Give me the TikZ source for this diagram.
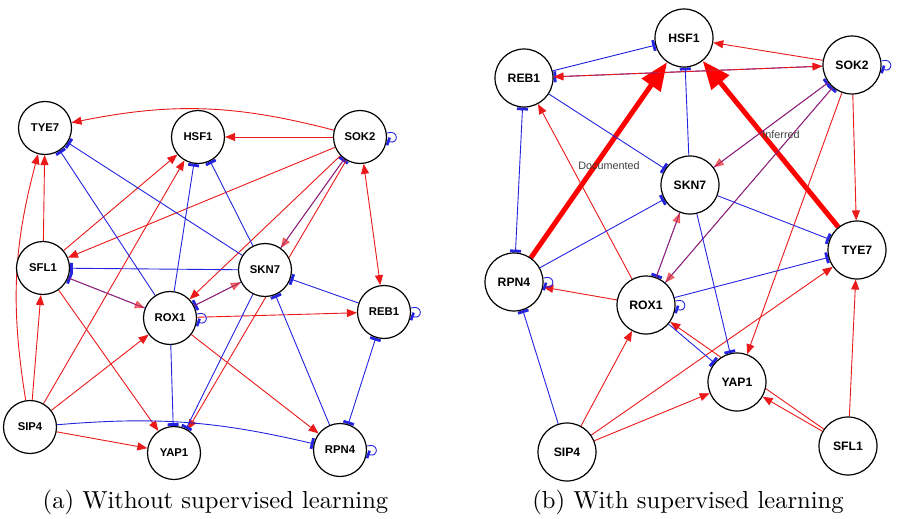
\documentclass[tikz,border=0pt]{standalone}
\usepackage{fontspec}
\newfontfamily\nodefont{Liberation Sans}
\newfontfamily\capfont{lmroman10-regular}[Extension=.otf]
\usetikzlibrary{arrows.meta}
\definecolor{actred}{RGB}{235,25,25}
\definecolor{inhblue}{RGB}{35,35,225}
\pgfdeclarelayer{edges}
\pgfsetlayers{edges,main}
\newcommand\sloop[1]{\draw[selfloop] ([yshift=4pt]#1.east) .. controls +(12,4) and +(12,-4) .. ([yshift=-4pt]#1.east);}
\begin{document}
\begin{tikzpicture}[x=1pt,y=1pt,
  na/.style={circle,draw=black,line width=1.2pt,fill=white,minimum size=53pt,inner sep=0pt,font=\nodefont\bfseries\fontsize{11.3}{11.3}\selectfont},
  nb/.style={na,minimum size=58pt,font=\nodefont\bfseries\fontsize{12.2}{12.2}\selectfont},
  act/.style={draw=actred,line width=0.9pt,-{Triangle[length=10pt,width=8pt]}},
  actboth/.style={draw=actred,line width=0.9pt,{Triangle[length=10pt,width=8pt]}-{Triangle[length=10pt,width=8pt]}},
  mixact/.style={act,draw opacity=0.6,fill opacity=0.6},
  inh/.style={draw=inhblue,line width=0.9pt,-{Bar[width=11pt,line width=2.8pt]}},
  inhboth/.style={draw=inhblue,line width=0.9pt,{Bar[width=11pt,line width=2.8pt]}-{Bar[width=11pt,line width=2.8pt]}},
  big/.style={draw=red,line width=5pt,-{Triangle[length=28pt,width=22pt]}},
  selfloop/.style={draw=inhblue,line width=0.9pt,-{Bar[width=8pt,line width=2.6pt]}},
  lab/.style={font=\nodefont\fontsize{10.8}{10.8}\selectfont,text=black!75},
  captext/.style={font=\capfont\fontsize{24.6}{28}\selectfont,anchor=base}
]
\useasboundingbox (0,0) rectangle (897,-519);
% panel (a) nodes
\node[na] (tye7) at (45,-128) {TYE7};
\node[na] (hsf1) at (198,-137) {HSF1};
\node[na] (sok2) at (360,-137) {SOK2};
\node[na] (sfl1) at (43,-268) {SFL1};
\node[na] (skn7) at (265,-270) {SKN7};
\node[na] (rox1) at (170,-318) {ROX1};
\node[na] (reb1) at (384,-312) {REB1};
\node[na] (sip4) at (30,-427) {SIP4};
\node[na] (yap1) at (174,-453) {YAP1};
\node[na] (rpn4) at (340,-450) {RPN4};
% panel (b) nodes
\node[nb] (hsf1b) at (684,-38) {HSF1};
\node[nb] (reb1b) at (524,-78) {REB1};
\node[nb] (sok2b) at (852,-65) {SOK2};
\node[nb] (skn7b) at (690,-185) {SKN7};
\node[nb] (tye7b) at (857,-250) {TYE7};
\node[nb] (rpn4b) at (514,-282) {RPN4};
\node[nb] (rox1b) at (646,-305) {ROX1};
\node[nb] (yap1b) at (737,-382) {YAP1};
\node[nb] (sip4b) at (567,-452) {SIP4};
\node[nb] (sfl1b) at (848,-446) {SFL1};
\begin{pgfonlayer}{edges}
% panel (a) edges
\draw[act] (sok2) to[bend right=13] (tye7);
\draw[act] (sok2) -- (hsf1);
\draw[act] (sok2) -- (sfl1);
\draw[inh] (skn7) -- (sok2); \draw[mixact] (sok2) -- (skn7);
\draw[act] (sok2) -- (rox1);
\draw[act] (sok2) -- (yap1);
\draw[actboth] (sok2) -- (reb1);
\draw[act] (sfl1) -- (tye7);
\draw[act] (sip4) to[bend left=12] (tye7);
\draw[act] (sfl1) -- (hsf1);
\draw[act] (sip4) -- (hsf1);
\draw[act] (sip4) -- (sfl1);
\draw[act] (sip4) -- (rox1);
\draw[act] (sip4) -- (yap1);
\draw[act] (sfl1) -- (yap1);
\draw[inh] (rox1) -- (sfl1); \draw[mixact] (sfl1) -- (rox1);
\draw[act] (rox1) -- (reb1);
\draw[act] (rox1) -- (rpn4);
\draw[inh] (skn7) -- (rox1); \draw[mixact] (rox1) -- (skn7);
\draw[inh] (skn7) -- (tye7);
\draw[inh] (rox1) -- (tye7);
\draw[inh] (rox1) -- (hsf1);
\draw[inh] (skn7) -- (hsf1);
\draw[inh] (skn7) -- (sfl1);
\draw[inh] (reb1) -- (skn7);
\draw[inh] (rpn4) -- (skn7);
\draw[inh] (skn7) -- (yap1);
\draw[inh] (rox1) -- (yap1);
\draw[inhboth] (reb1) -- (rpn4);
\draw[inh] (sip4) to[bend left=9] (rpn4);
\sloop{sok2} \sloop{rox1} \sloop{reb1} \sloop{rpn4}
% panel (b) edges
\draw[big] (rpn4b) -- (hsf1b);
\draw[big] (tye7b) -- (hsf1b);
\draw[act] (sok2b) -- (hsf1b);
\draw[inh] (sok2b) -- (reb1b); \draw[actboth] (sok2b) -- (reb1b);
\draw[inh] (skn7b) -- (sok2b); \draw[mixact] (sok2b) -- (skn7b);
\draw[inh] (rox1b) -- (sok2b); \draw[mixact] (sok2b) -- (rox1b);
\draw[act] (sok2b) -- (tye7b);
\draw[act] (sok2b) -- (yap1b);
\draw[act] (rox1b) -- (reb1b);
\draw[act] (rox1b) -- (rpn4b);
\draw[inh] (skn7b) -- (rox1b); \draw[mixact] (rox1b) -- (skn7b);
\draw[act] (sip4b) -- (rox1b);
\draw[act] (sip4b) -- (yap1b);
\draw[act] (sip4b) -- (tye7b);
\draw[act] (sfl1b) -- (yap1b);
\draw[act] (sfl1b) -- (rox1b);
\draw[act] (sfl1b) -- (tye7b);
\draw[inh] (reb1b) -- (hsf1b);
\draw[inh] (skn7b) -- (hsf1b);
\draw[inh] (reb1b) -- (skn7b);
\draw[inh] (rpn4b) -- (skn7b);
\draw[inhboth] (reb1b) -- (rpn4b);
\draw[inh] (sip4b) -- (rpn4b);
\draw[inh] (skn7b) -- (tye7b);
\draw[inh] (rox1b) -- (tye7b);
\draw[inh] (skn7b) -- (yap1b);
\draw[inh] (rox1b) -- (yap1b);
\sloop{rpn4b} \sloop{rox1b} \sloop{sok2b}
\end{pgfonlayer}
\node[lab] (doc) at (609,-166) {Documented};
\node[lab] (inf) at (781,-135) {Inferred};
\node[captext] (capa) at (215.5,-508) {(a) Without supervised learning};
\node[captext] (capb) at (688,-508) {(b) With supervised learning};
\end{tikzpicture}
\end{document}
